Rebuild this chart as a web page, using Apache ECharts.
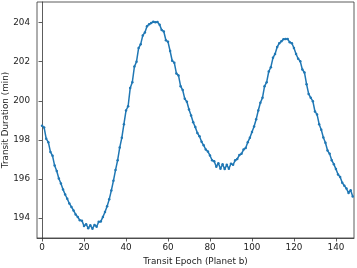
<!DOCTYPE html>
<html>
<head>
<meta charset="utf-8">
<script src="https://cdn.jsdelivr.net/npm/echarts@6/dist/echarts.min.js"></script>
<style>
html,body{margin:0;padding:0;background:#fff;}
#c{width:357px;height:268px;}
</style>
</head>
<body>
<div id="c"></div>
<script>
const epochs = [];
for (let i = 0; i <= 148; i++) epochs.push(i);
const durations = [
198.72,198.63,198.05,197.88,197.38,197.18,196.68,196.40,196.02,195.76,
195.46,195.20,194.98,194.74,194.56,194.38,194.18,194.05,193.88,193.86,
193.58,193.68,193.47,193.62,193.45,193.64,193.55,193.80,193.82,194.05,
194.30,194.60,194.95,195.40,195.90,196.45,196.95,197.60,198.10,198.80,
199.50,199.72,200.65,200.95,201.75,202.00,202.70,202.90,203.35,203.50,
203.82,203.92,203.98,204.05,204.02,204.03,203.90,203.62,203.55,203.10,
203.02,202.55,202.05,201.95,201.40,201.30,200.75,200.55,200.10,199.95,
199.55,199.25,198.90,198.65,198.35,198.18,197.90,197.72,197.50,197.40,
197.20,196.95,196.90,196.62,196.80,196.52,196.75,196.50,196.72,196.52,
196.78,196.72,196.95,197.02,197.22,197.28,197.50,197.58,197.88,198.10,
198.40,198.68,199.05,199.50,199.90,200.15,200.75,200.95,201.50,201.72,
202.20,202.40,202.75,202.95,203.05,203.15,203.17,203.16,203.00,202.95,
202.70,202.40,202.15,202.02,201.60,201.45,200.85,200.35,200.15,199.98,
199.45,199.30,198.80,198.52,198.12,197.85,197.45,197.28,196.95,196.75,
196.50,196.22,196.10,195.80,195.65,195.50,195.28,195.42,195.10
];
const xTicks = [0,20,40,60,80,100,120,140];
const yTicks = [194,196,198,200,202,204];
const xTitle = 'Transit Epoch (Planet b)';
const yTitle = 'Transit Duration (min)';

const chart = echarts.init(document.getElementById('c'), null, {renderer:'canvas'});
const font = 'DejaVu Sans';
const fs = 8.8;
chart.setOption({
  animation:false,
  backgroundColor:'#fff',
  grid:{left:37,right:3,top:2,bottom:30,containLabel:false,outerBoundsMode:'none',
        show:true,borderColor:'#333',borderWidth:0.8,backgroundColor:'transparent'},
  xAxis:{
    type:'value',min:-2.4,max:148.6,
    name:xTitle,nameLocation:'middle',nameGap:19,nameMoveOverlap:false,
    nameTextStyle:{fontFamily:font,fontSize:fs,color:'#222'},
    axisLine:{show:true,lineStyle:{color:'#333',width:0.8}},
    axisTick:{show:true,length:3.5,customValues:xTicks,lineStyle:{color:'#333',width:0.8}},
    axisLabel:{customValues:xTicks,fontFamily:font,fontSize:fs,color:'#222',margin:5.5},
    splitLine:{show:false}
  },
  yAxis:{
    type:'value',min:192.97,max:205.06,
    name:yTitle,nameLocation:'middle',nameGap:27,nameMoveOverlap:false,
    nameTextStyle:{fontFamily:font,fontSize:fs,color:'#222'},
    axisLine:{show:true,lineStyle:{color:'#333',width:0.8}},
    axisTick:{show:true,length:3.5,customValues:yTicks,lineStyle:{color:'#333',width:0.8}},
    axisLabel:{customValues:yTicks,fontFamily:font,fontSize:fs,color:'#222',margin:7},
    splitLine:{show:false}
  },
  series:[{
    type:'line',
    data:epochs.map((e,i)=>[e,durations[i]]),
    showSymbol:true,symbol:'circle',symbolSize:2.5,
    itemStyle:{color:'#1f77b4'},
    lineStyle:{color:'#1f77b4',width:1.5},
    clip:true
  }]
});
</script>
</body>
</html>
